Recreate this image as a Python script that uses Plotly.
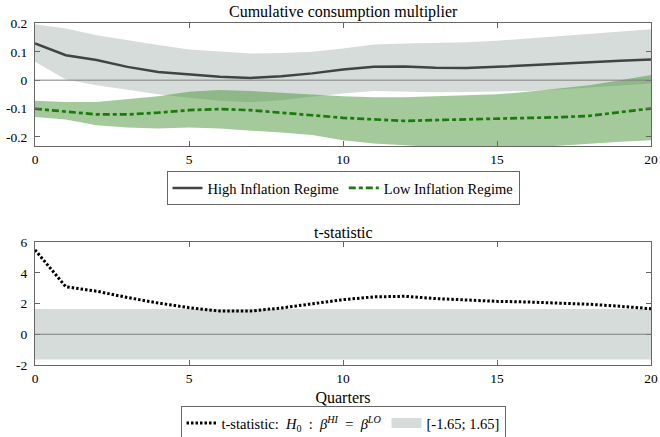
import plotly.graph_objects as go

# Horizon (quarters)
quarters = list(range(21))

# Cumulative consumption multiplier, high inflation regime (point estimate and band)
hi_mult = [0.130, 0.088, 0.071, 0.047, 0.029, 0.021, 0.012, 0.008, 0.014, 0.024, 0.038,
           0.047, 0.048, 0.044, 0.043, 0.047, 0.053, 0.059, 0.065, 0.069, 0.073]
hi_upper = [0.198, 0.183, 0.159, 0.141, 0.124, 0.108, 0.100, 0.094, 0.096, 0.100, 0.112,
            0.126, 0.130, 0.132, 0.134, 0.139, 0.147, 0.155, 0.165, 0.173, 0.180]
hi_lower = [0.065, 0.002, -0.018, -0.035, -0.050, -0.062, -0.073, -0.078, -0.071, -0.059, -0.047,
            -0.038, -0.040, -0.043, -0.042, -0.040, -0.038, -0.033, -0.026, -0.018, -0.012]

# Low inflation regime
lo_mult = [-0.101, -0.110, -0.121, -0.121, -0.115, -0.106, -0.102, -0.106, -0.114, -0.124, -0.133,
           -0.139, -0.144, -0.141, -0.139, -0.137, -0.135, -0.131, -0.126, -0.114, -0.100]
lo_upper = [-0.073, -0.077, -0.077, -0.068, -0.057, -0.041, -0.035, -0.038, -0.045, -0.050, -0.057,
            -0.060, -0.060, -0.057, -0.053, -0.050, -0.041, -0.029, -0.018, 0.000, 0.018]
lo_lower = [-0.130, -0.139, -0.159, -0.167, -0.171, -0.167, -0.171, -0.177, -0.185, -0.194, -0.212,
            -0.224, -0.230, -0.236, -0.238, -0.238, -0.236, -0.232, -0.224, -0.218, -0.212]

# t-statistic for equality of the two multipliers, and the 10% critical values
t_stat = [5.49, 3.09, 2.80, 2.39, 2.03, 1.73, 1.51, 1.51, 1.71, 1.99, 2.25,
          2.43, 2.47, 2.32, 2.21, 2.14, 2.10, 2.03, 1.95, 1.82, 1.66]
t_crit = [-1.65, 1.65]

x_ticks = [0, 5, 10, 15, 20]
y1_ticks = [-0.2, -0.1, 0, 0.1, 0.2]
y1_labels = ["-0.2", "-0.1", "0", "0.1", "0.2"]
y2_ticks = [-2, 0, 2, 4, 6]
y2_labels = ["-2", "0", "2", "4", "6"]

FONT = "Liberation Serif"
GRAY_BAND = "#d5dcda"
GREEN_BAND = "rgba(73,147,53,0.5)"
DARK_LINE = "#404444"
GREEN_LINE = "#1a7a0c"

NB = "&nbsp;"
T_LABEL = ("t-statistic:" + NB * 2 + "<i>H</i><sub>0</sub>" + NB * 2 + ":" + NB * 2
           + "<i>β</i><sup><i>HI</i></sup>" + NB * 2 + "=" + NB * 2
           + "<i>β</i><sup><i>LO</i></sup>")

fig = go.Figure()

# --- top panel: bands ---
fig.add_trace(go.Scatter(x=quarters, y=hi_lower, mode="lines", line=dict(width=0),
                         showlegend=False, hoverinfo="skip", xaxis="x", yaxis="y"))
fig.add_trace(go.Scatter(x=quarters, y=hi_upper, mode="lines", line=dict(width=0),
                         fill="tonexty", fillcolor=GRAY_BAND,
                         showlegend=False, hoverinfo="skip", xaxis="x", yaxis="y"))
fig.add_trace(go.Scatter(x=quarters, y=lo_lower, mode="lines", line=dict(width=0),
                         showlegend=False, hoverinfo="skip", xaxis="x", yaxis="y"))
fig.add_trace(go.Scatter(x=quarters, y=lo_upper, mode="lines", line=dict(width=0),
                         fill="tonexty", fillcolor=GREEN_BAND,
                         showlegend=False, hoverinfo="skip", xaxis="x", yaxis="y"))

# --- top panel: point estimates ---
fig.add_trace(go.Scatter(x=quarters, y=hi_mult, mode="lines", name="High Inflation Regime",
                         line=dict(color=DARK_LINE, width=2.5),
                         xaxis="x", yaxis="y", legend="legend"))
fig.add_trace(go.Scatter(x=quarters, y=lo_mult, mode="lines", name="Low Inflation Regime",
                         line=dict(color=GREEN_LINE, width=2.7, dash="7px,3px,4px,3px"),
                         xaxis="x", yaxis="y", legend="legend"))

# --- bottom panel ---
band_x = [quarters[0], quarters[-1], quarters[-1], quarters[0]]
band_y = [t_crit[0], t_crit[0], t_crit[1], t_crit[1]]
fig.add_trace(go.Scatter(x=band_x, y=band_y, mode="lines", fill="toself",
                         fillcolor=GRAY_BAND, line=dict(width=0),
                         showlegend=False, hoverinfo="skip", xaxis="x2", yaxis="y2"))
fig.add_trace(go.Scatter(x=quarters, y=t_stat, mode="lines", name=T_LABEL,
                         line=dict(color="black", width=3, dash="2.5px,2px"),
                         xaxis="x2", yaxis="y2", legend="legend2"))
# legend swatch for the critical-value band
fig.add_trace(go.Scatter(x=[None], y=[None], mode="lines",
                         name="[-1.65; 1.65]",
                         line=dict(color=GRAY_BAND, width=13),
                         xaxis="x2", yaxis="y2", legend="legend2"))

# zero reference lines drawn above the bands
for xr, yr in (("x domain", "y"), ("x2 domain", "y2")):
    fig.add_shape(type="line", xref=xr, yref=yr, x0=0, x1=1, y0=0, y1=0,
                  line=dict(color="#808080", width=1), layer="above")

axis_common = dict(showline=True, linecolor="#666666", linewidth=1, mirror="allticks",
                   ticks="inside", ticklen=5, tickcolor="#666666", showgrid=False,
                   zeroline=False, automargin=False,
                   tickfont=dict(family=FONT, size=13.5, color="black"))

legend_common = dict(orientation="h", x=0.5, xanchor="center", yanchor="middle",
                     yref="container", bordercolor="#666666", borderwidth=1, bgcolor="white",
                     itemwidth=30, tracegroupgap=0, traceorder="normal")

fig.update_layout(
    width=660, height=437,
    margin=dict(l=35, r=9, t=23, b=72, autoexpand=False),
    paper_bgcolor="white", plot_bgcolor="white",
    font=dict(family=FONT, size=13.5, color="black"),
    xaxis=dict(domain=[0, 1], range=[0, 20], tickvals=x_ticks, anchor="y",
               ticklabelstandoff=1, **axis_common),
    yaxis=dict(domain=[0.640, 1], range=[-0.233, 0.202], tickvals=y1_ticks, ticktext=y1_labels,
               anchor="x", ticklabelstandoff=4, **axis_common),
    xaxis2=dict(domain=[0, 1], range=[0, 20], tickvals=x_ticks, anchor="y2",
                ticklabelstandoff=1,
                title=dict(text="Quarters", font=dict(family=FONT, size=16, color="black"),
                           standoff=15),
                **axis_common),
    yaxis2=dict(domain=[0, 0.3596], range=[-2, 6], tickvals=y2_ticks, ticktext=y2_labels,
                anchor="x2", ticklabelstandoff=4, **axis_common),
    legend=dict(y=0.5698, font=dict(family=FONT, size=14.5, color="black"), **legend_common),
    legend2=dict(y=0.032, font=dict(family=FONT, size=14.5, color="black"), **legend_common),
    annotations=[
        dict(text="Cumulative consumption multiplier", xref="paper", yref="paper",
             x=0.5, y=1, xanchor="center", yanchor="bottom", yshift=0, showarrow=False,
             font=dict(family=FONT, size=16, color="black")),
        dict(text="t-statistic", xref="paper", yref="paper",
             x=0.5, y=0.3596, xanchor="center", yanchor="bottom", yshift=-1, showarrow=False,
             font=dict(family=FONT, size=16, color="black")),
    ],
)

fig.write_html("out.html")
